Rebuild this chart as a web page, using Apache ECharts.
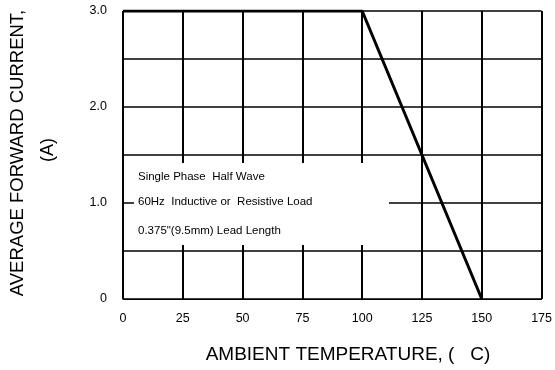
<!DOCTYPE html>
<html>
<head>
<meta charset="utf-8">
<script src="https://cdn.jsdelivr.net/npm/echarts@6/dist/echarts.min.js"></script>
<style>html,body{margin:0;padding:0;background:#fff}#c{width:555px;height:370px}</style>
</head>
<body>
<div id="c"></div>
<script>
// Data
var temps = [0, 100, 150];
var currents = [3.0, 3.0, 0];
var yTickLabels = {0: '0', 1: '1.0', 2: '2.0', 3: '3.0'};
var xTitle = 'AMBIENT TEMPERATURE, (   C)';
var yTitle = 'AVERAGE FORWARD CURRENT,';
var yUnit = '(A)';
var noteLines = ['Single Phase  Half Wave', '60Hz  Inductive or  Resistive Load', '0.375"(9.5mm) Lead Length'];

var chart = echarts.init(document.getElementById('c'), null, {renderer: 'canvas'});
var font = 'Liberation Sans, Arial, sans-serif';
var option = {
  animation: false,
  backgroundColor: '#fff',
  grid: {left: 123, right: 10, top: 11, bottom: 71, containLabel: false},
  xAxis: {
    type: 'value', min: 0, max: 175, interval: 25,
    axisLine: {show: true, lineStyle: {color: '#000', width: 1}},
    axisTick: {show: false},
    splitLine: {show: true, lineStyle: {color: '#000', width: 2}},
    axisLabel: {color: '#000', fontFamily: font, fontSize: 12.5, margin: 13}
  },
  yAxis: {
    type: 'value', min: 0, max: 3, interval: 0.5,
    axisLine: {show: true, lineStyle: {color: '#000', width: 1}},
    axisTick: {show: false},
    splitLine: {show: true, lineStyle: {color: '#000', width: 1.5}},
    axisLabel: {
      color: '#000', fontFamily: font, fontSize: 12.5, margin: 16,
      formatter: function (v) { return yTickLabels.hasOwnProperty(v) ? yTickLabels[v] : ''; }
    }
  },
  series: [{
    type: 'line',
    data: temps.map(function (t, i) { return [t, currents[i]]; }),
    symbol: 'none',
    lineStyle: {color: '#000', width: 3},
    z: 5
  }],
  graphic: [
    {type: 'rect', z: 100, shape: {x: 134, y: 163, width: 255, height: 82}, style: {fill: '#fff'}},
    {type: 'text', z: 101, x: 138, y: 177, style: {text: noteLines[0], font: '11.5px ' + font, fill: '#000', verticalAlign: 'middle'}},
    {type: 'text', z: 101, x: 138, y: 202, style: {text: noteLines[1], font: '11.5px ' + font, fill: '#000', verticalAlign: 'middle'}},
    {type: 'text', z: 101, x: 138, y: 231, style: {text: noteLines[2], font: '11.5px ' + font, fill: '#000', verticalAlign: 'middle'}},
    {type: 'text', z: 101, x: 348, y: 355, style: {text: xTitle, font: '19px ' + font, fill: '#000', align: 'center', verticalAlign: 'middle'}},
    {type: 'text', z: 101, x: 18, y: 153, rotation: Math.PI / 2, style: {text: yTitle, font: '18.5px ' + font, fill: '#000', align: 'center', verticalAlign: 'middle'}},
    {type: 'text', z: 101, x: 48, y: 150, rotation: Math.PI / 2, style: {text: yUnit, font: '18px ' + font, fill: '#000', align: 'center', verticalAlign: 'middle'}}
  ]
};
chart.setOption(option);
</script>
</body>
</html>
